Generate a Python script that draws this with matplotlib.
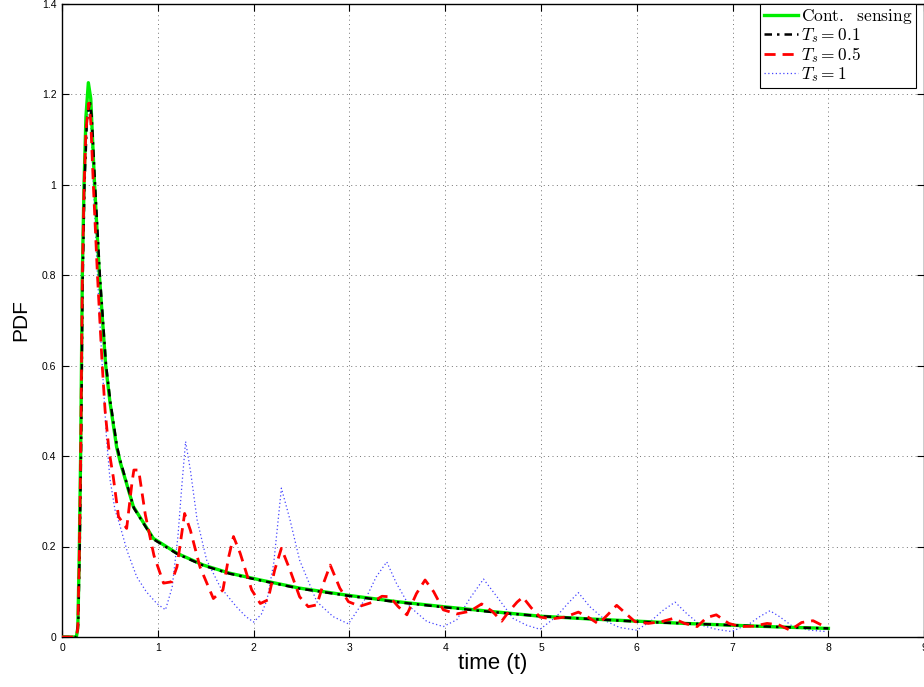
import numpy as np
import matplotlib
matplotlib.use('Agg')
import matplotlib.pyplot as plt
from matplotlib.ticker import FuncFormatter

plt.rcParams['font.family'] = ['Liberation Sans', 'DejaVu Sans']
plt.rcParams['mathtext.fontset'] = 'cm'

# continuous sensing
t_cont = [0, 0.15, 0.165, 0.18, 0.195, 0.212, 0.23, 0.25, 0.275, 0.3, 0.34, 0.39,
          0.456, 0.5, 0.57, 0.61, 0.745, 0.953, 1.2, 1.475, 1.75, 2.07, 2.48, 2.99,
          3.5, 3.98, 4.5, 4.99, 5.5, 6.0, 6.5, 7.0, 7.5, 8.0]
p_cont = [0, 0, 0.02, 0.18, 0.41, 0.8, 1.0, 1.15, 1.225, 1.19, 1.0, 0.8,
          0.6, 0.52, 0.42, 0.385, 0.288, 0.218, 0.185, 0.159, 0.141, 0.126, 0.108, 0.092,
          0.078, 0.067, 0.056, 0.046, 0.04, 0.035, 0.03, 0.026, 0.022, 0.019]

# Ts = 0.1
t_01 = [0, 0.15, 0.17, 0.185, 0.2, 0.215, 0.235, 0.26, 0.29, 0.31, 0.345, 0.395,
        0.46, 0.505, 0.575, 0.615, 0.75, 0.955, 1.2, 1.475, 1.75, 2.07, 2.48, 2.99,
        3.5, 3.98, 4.5, 4.99, 5.5, 6.0, 6.5, 7.0, 7.5, 8.0]
p_01 = [0, 0, 0.03, 0.2, 0.43, 0.78, 1.0, 1.14, 1.185, 1.15, 1.0, 0.8,
        0.6, 0.52, 0.42, 0.385, 0.285, 0.216, 0.184, 0.158, 0.14, 0.125, 0.107, 0.091,
        0.077, 0.066, 0.055, 0.046, 0.04, 0.034, 0.03, 0.026, 0.022, 0.019]

# Ts = 0.5
t_05 = [0, 0.15, 0.165, 0.18, 0.195, 0.212, 0.23, 0.25, 0.28, 0.3, 0.327, 0.37,
        0.42, 0.45, 0.49, 0.535, 0.59, 0.675, 0.73, 0.75, 0.8, 0.87, 0.96, 1.06,
        1.145, 1.2, 1.28, 1.34, 1.44, 1.58, 1.68, 1.74, 1.79, 1.86, 1.98, 2.07,
        2.15, 2.22, 2.29, 2.38, 2.48, 2.57, 2.66, 2.73, 2.8, 2.9, 2.99, 3.11,
        3.23, 3.34, 3.42, 3.51, 3.6, 3.7, 3.79, 3.88, 3.98, 4.12, 4.26, 4.38,
        4.49, 4.59, 4.66, 4.75, 4.81, 4.9, 4.99, 5.11, 5.25, 5.39, 5.49, 5.6,
        5.7, 5.79, 5.89, 5.98, 6.12, 6.26, 6.38, 6.5, 6.63, 6.73, 6.83, 6.96,
        7.08, 7.22, 7.36, 7.48, 7.6, 7.72, 7.84, 7.98]
p_05 = [0, 0, 0.02, 0.17, 0.4, 0.79, 0.99, 1.12, 1.18, 1.14, 1.0, 0.8,
        0.6, 0.5, 0.413, 0.354, 0.266, 0.24, 0.34, 0.369, 0.369, 0.27, 0.18, 0.119,
        0.122, 0.155, 0.273, 0.236, 0.155, 0.085, 0.104, 0.177, 0.222, 0.185, 0.104, 0.074,
        0.082, 0.148, 0.196, 0.148, 0.089, 0.067, 0.071, 0.119, 0.159, 0.108, 0.078, 0.068,
        0.076, 0.09, 0.089, 0.067, 0.049, 0.096, 0.126, 0.1, 0.06, 0.051, 0.057, 0.073,
        0.057, 0.035, 0.055, 0.077, 0.088, 0.064, 0.044, 0.04, 0.044, 0.055, 0.044, 0.029,
        0.05, 0.07, 0.051, 0.034, 0.03, 0.034, 0.041, 0.03, 0.023, 0.043, 0.049, 0.03,
        0.023, 0.024, 0.03, 0.027, 0.015, 0.032, 0.036, 0.021]

# Ts = 1
t_1 = [0, 0.15, 0.165, 0.18, 0.195, 0.212, 0.23, 0.25, 0.28, 0.3, 0.327, 0.37,
       0.42, 0.466, 0.5, 0.553, 0.6, 0.68, 0.78, 0.88, 0.99, 1.08, 1.15, 1.21,
       1.25, 1.29, 1.34, 1.41, 1.51, 1.65, 1.82, 1.92, 2.0, 2.08, 2.14, 2.21,
       2.26, 2.29, 2.38, 2.48, 2.66, 2.83, 2.99, 3.04, 3.18, 3.28, 3.39, 3.49,
       3.63, 3.81, 3.98, 4.12, 4.26, 4.4, 4.54, 4.71, 4.85, 4.99, 5.16, 5.28,
       5.39, 5.51, 5.69, 5.82, 6.0, 6.14, 6.28, 6.4, 6.52, 6.66, 6.83, 6.99,
       7.18, 7.29, 7.39, 7.49, 7.63, 7.81, 7.98]
p_1 = [0, 0, 0.02, 0.17, 0.4, 0.79, 0.99, 1.12, 1.18, 1.14, 1.0, 0.8,
       0.6, 0.435, 0.35, 0.281, 0.25, 0.19, 0.133, 0.1, 0.074, 0.06, 0.11, 0.222,
       0.332, 0.432, 0.369, 0.259, 0.17, 0.111, 0.067, 0.045, 0.033, 0.05, 0.082, 0.163,
       0.266, 0.329, 0.259, 0.17, 0.078, 0.045, 0.029, 0.045, 0.089, 0.133, 0.166, 0.119,
       0.067, 0.034, 0.023, 0.038, 0.086, 0.128, 0.089, 0.041, 0.026, 0.017, 0.045, 0.074,
       0.098, 0.067, 0.034, 0.021, 0.015, 0.034, 0.06, 0.077, 0.052, 0.027, 0.017, 0.012,
       0.03, 0.046, 0.058, 0.045, 0.023, 0.015, 0.012]

fig = plt.figure(figsize=(9.24, 6.87), dpi=100)
ax = fig.add_axes([62/924, 50/687, 862.2/924, 633.5/687])

ax.plot(t_cont, p_cont, color='#00ee00', lw=2.4, label=r'$\mathrm{Cont.\ \ sensing}$', zorder=3)
ax.plot(t_01, p_01, color='k', lw=1.8, ls=(0, (3, 2, 1, 2)), label=r'$T_s = 0.1$', zorder=4)
ax.plot(t_05, p_05, color='#ff0000', lw=2, ls=(0, (4, 2.5)), label=r'$T_s = 0.5$', zorder=5)
ax.plot(t_1, p_1, color='#4444ff', lw=0.9, ls=(0, (1, 2)), label=r'$T_s = 1$', zorder=2)

ax.set_xlim(0, 9)
ax.set_ylim(0, 1.4)
ax.set_xticks(np.arange(0, 10, 1))
ax.set_yticks(np.arange(0, 1.41, 0.2))
ax.yaxis.set_major_formatter(FuncFormatter(lambda v, p: '%g' % round(v, 1)))
ax.tick_params(direction='in', length=5, width=0.8, labelsize=7.5, top=True, right=True, pad=4)
ax.grid(True, ls=(0, (1, 3.5)), color='0.45', lw=0.7)
for s in ax.spines.values():
    s.set_linewidth(1)

ax.set_xlabel('time (t)', fontsize=16, labelpad=0)
ax.set_ylabel('PDF', fontsize=15, labelpad=8)

leg = ax.legend(loc='upper right', bbox_to_anchor=(0.9905, 0.9995), borderaxespad=0,
                fontsize=12.5, fancybox=False, framealpha=1, edgecolor='k',
                handlelength=2.0, handletextpad=0.15, labelspacing=0.0, borderpad=0.2)
leg.get_frame().set_linewidth(0.8)

fig.savefig('out.png', dpi=100)
